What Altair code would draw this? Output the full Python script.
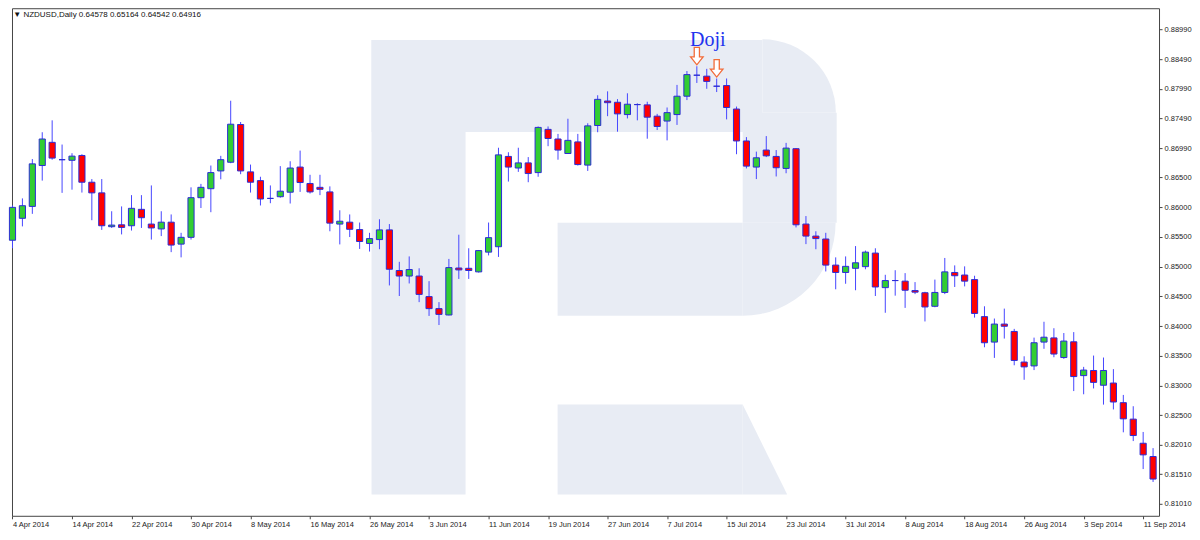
import math
import altair as alt
import pandas as pd

# ---------------- data ----------------
date_labels = ["4 Apr 2014", "14 Apr 2014", "22 Apr 2014", "30 Apr 2014", "8 May 2014",
               "16 May 2014", "26 May 2014", "3 Jun 2014", "11 Jun 2014", "19 Jun 2014",
               "27 Jun 2014", "7 Jul 2014", "15 Jul 2014", "23 Jul 2014", "31 Jul 2014",
               "8 Aug 2014", "18 Aug 2014", "26 Aug 2014", "3 Sep 2014", "11 Sep 2014"]
label_step = 6  # bars between date labels

opens = [
    0.85444, 0.85813, 0.86013, 0.86701, 0.87091, 0.86799, 0.86789, 0.86870, 0.86420, 0.86241,
    0.85672, 0.85704, 0.85688, 0.85964, 0.85716, 0.85634, 0.85748, 0.85379, 0.85493, 0.86160,
    0.86311, 0.86610, 0.86756, 0.87391, 0.86594, 0.86447, 0.86148, 0.86176, 0.86252, 0.86675,
    0.86399, 0.86334, 0.86257, 0.85716, 0.85748, 0.85623, 0.85390, 0.85455, 0.85618, 0.84935,
    0.84842, 0.84842, 0.84496, 0.84294, 0.84187, 0.84977, 0.84972, 0.84912, 0.85244, 0.85335,
    0.86854, 0.86659, 0.86745, 0.86582, 0.87309, 0.87147, 0.86903, 0.87098, 0.86708, 0.87374,
    0.87786, 0.87765, 0.87558, 0.87726, 0.87721, 0.87531, 0.87449, 0.87558, 0.87867, 0.88220,
    0.88204, 0.88035, 0.88046, 0.87651, 0.87114, 0.86675, 0.86961, 0.86854, 0.86652, 0.86984,
    0.85716, 0.85514, 0.85465, 0.85026, 0.84902, 0.84972, 0.85000, 0.85228, 0.84647, 0.84766,
    0.84756, 0.84598, 0.84561, 0.84333, 0.84566, 0.84902, 0.84859, 0.84782, 0.84159, 0.83731,
    0.84034, 0.83910, 0.83395, 0.83330, 0.83731, 0.83801, 0.83471, 0.83736, 0.83167, 0.83253,
    0.83005, 0.83042, 0.82712, 0.82435, 0.82029, 0.81806]
highs = [
    0.86029, 0.86148, 0.86810, 0.87261, 0.87461, 0.87054, 0.86908, 0.86891, 0.86473, 0.86473,
    0.85932, 0.86013, 0.86203, 0.86203, 0.86366, 0.85932, 0.85878, 0.85569, 0.86334, 0.86392,
    0.86701, 0.86864, 0.87791, 0.87433, 0.86717, 0.86512, 0.86366, 0.86691, 0.86773, 0.86952,
    0.86545, 0.86545, 0.86350, 0.85948, 0.85878, 0.85742, 0.85569, 0.85797, 0.85716, 0.85081,
    0.85172, 0.84972, 0.84756, 0.84403, 0.85130, 0.85537, 0.85309, 0.85280, 0.85742, 0.87000,
    0.86924, 0.87000, 0.86843, 0.87358, 0.87358, 0.87233, 0.87488, 0.87233, 0.87412, 0.87883,
    0.87949, 0.87818, 0.87916, 0.87748, 0.87774, 0.87570, 0.87677, 0.88057, 0.88290, 0.88371,
    0.88327, 0.88165, 0.88165, 0.87693, 0.87179, 0.86935, 0.87196, 0.86961, 0.87082, 0.86995,
    0.85851, 0.85595, 0.85569, 0.85156, 0.85172, 0.85346, 0.85270, 0.85309, 0.84863, 0.84940,
    0.84891, 0.84740, 0.84577, 0.84782, 0.85146, 0.85021, 0.85005, 0.84847, 0.84333, 0.84127,
    0.84294, 0.83953, 0.83492, 0.83806, 0.84073, 0.83964, 0.83883, 0.83899, 0.83314, 0.83504,
    0.83471, 0.83276, 0.82842, 0.82652, 0.82219, 0.81947]
lows = [
    0.85309, 0.85677, 0.85888, 0.86447, 0.86799, 0.86241, 0.86295, 0.86246, 0.85781, 0.85618,
    0.85651, 0.85542, 0.85607, 0.85651, 0.85455, 0.85514, 0.85244, 0.85156, 0.85455, 0.85986,
    0.85916, 0.86469, 0.86740, 0.86555, 0.86246, 0.86029, 0.86067, 0.86160, 0.86062, 0.86257,
    0.86230, 0.86203, 0.85595, 0.85374, 0.85498, 0.85298, 0.85254, 0.85293, 0.84684, 0.84506,
    0.84717, 0.84403, 0.84171, 0.84018, 0.84180, 0.84793, 0.84793, 0.84900, 0.85189, 0.85163,
    0.86431, 0.86594, 0.86420, 0.86512, 0.87026, 0.86799, 0.86895, 0.86701, 0.86610, 0.87261,
    0.87531, 0.87270, 0.87493, 0.87461, 0.87152, 0.87298, 0.87124, 0.87384, 0.87802, 0.88090,
    0.87992, 0.87937, 0.87477, 0.86891, 0.86652, 0.86473, 0.86843, 0.86517, 0.86571, 0.85660,
    0.85379, 0.85293, 0.84919, 0.84619, 0.84712, 0.84603, 0.84956, 0.84506, 0.84224, 0.84512,
    0.84306, 0.84538, 0.84078, 0.84317, 0.84538, 0.84658, 0.84668, 0.84143, 0.83644, 0.83465,
    0.83790, 0.83341, 0.83097, 0.83260, 0.83618, 0.83476, 0.83449, 0.82907, 0.82853, 0.82951,
    0.82679, 0.82598, 0.82213, 0.82066, 0.81595, 0.81378]
closes = [
    0.85997, 0.86025, 0.86729, 0.87147, 0.86826, 0.86799, 0.86859, 0.86420, 0.86241, 0.85688,
    0.85699, 0.85660, 0.85981, 0.85823, 0.85651, 0.85748, 0.85363, 0.85493, 0.86160, 0.86334,
    0.86582, 0.86799, 0.87396, 0.86610, 0.86420, 0.86138, 0.86148, 0.86269, 0.86659, 0.86415,
    0.86257, 0.86301, 0.85732, 0.85764, 0.85628, 0.85423, 0.85472, 0.85618, 0.84956, 0.84842,
    0.84951, 0.84533, 0.84294, 0.84197, 0.84984, 0.84945, 0.84935, 0.85270, 0.85488, 0.86880,
    0.86675, 0.86745, 0.86566, 0.87342, 0.87156, 0.86961, 0.87124, 0.86717, 0.87368, 0.87814,
    0.87758, 0.87570, 0.87732, 0.87726, 0.87514, 0.87358, 0.87591, 0.87867, 0.88230, 0.88220,
    0.88116, 0.88035, 0.87677, 0.87114, 0.86691, 0.86831, 0.86864, 0.86664, 0.86994, 0.85704,
    0.85514, 0.85472, 0.85026, 0.84902, 0.85005, 0.85065, 0.85244, 0.84658, 0.84766, 0.84766,
    0.84603, 0.84571, 0.84322, 0.84566, 0.84912, 0.84847, 0.84756, 0.84213, 0.83720, 0.84034,
    0.83997, 0.83422, 0.83314, 0.83720, 0.83813, 0.83530, 0.83748, 0.83151, 0.83260, 0.83053,
    0.83253, 0.82723, 0.82440, 0.82159, 0.81834, 0.81427]

price_ticks = [0.88990, 0.88490, 0.87990, 0.87490, 0.86990, 0.86500, 0.86000, 0.85500,
               0.85000, 0.84500, 0.84000, 0.83500, 0.83000, 0.82500, 0.82010, 0.81510, 0.81010]

header_text = "\u25bc NZDUSD,Daily  0.64578 0.65164 0.64542 0.64916"
doji_bars = [69, 71]
doji_label = "Doji"

# ---------------- layout ----------------
W, H = 1148, 508
REF_W, REF_H = 1159.0, 525.0
sx, sy = W / REF_W, H / REF_H
X_DOMAIN = [-0.05, 115.6]
Y_DOMAIN = [0.80809, 0.89347]


def px(v):
    return (v - 1.7) * sx


def py(v):
    return v * sy


n = len(opens)
df = pd.DataFrame({"i": list(range(n)), "o": opens, "h": highs, "l": lows, "c": closes})
df["x1"] = df["i"] - 0.31
df["x2"] = df["i"] + 0.31
df["dir"] = ["up" if c > o else ("down" if c < o else "flat") for o, c in zip(opens, closes)]

tick_idx = [k * label_step for k in range(len(date_labels))]
label_js = "[" + ",".join("'" + s + "'" for s in date_labels) + "]"
x_expr = label_js + "[round(datum.value / " + str(label_step) + ")]"

FONT = "Liberation Sans"
xaxis = alt.Axis(values=tick_idx, labelExpr=x_expr, labelAlign="left", labelBaseline="top",
                 labelPadding=2, tickSize=3, tickColor="#444", domain=False, grid=False,
                 labelFont=FONT, labelFontSize=7.5, labelColor="#222", labelFlush=False,
                 labelOverlap=False, labelBound=False, title=None)
yaxis = alt.Axis(orient="right", values=price_ticks, format=".5f", labelAlign="left",
                 labelBaseline="middle", labelPadding=2, tickSize=3, tickColor="#444",
                 domain=False, grid=False, labelFont=FONT, labelFontSize=7.5,
                 labelColor="#222", labelOverlap=False, labelFlush=False, title=None)
xscale = alt.Scale(domain=X_DOMAIN, nice=False, zero=False)
yscale = alt.Scale(domain=Y_DOMAIN, nice=False, zero=False)

one = pd.DataFrame({"a": [1]})
WM = "#e8ecf4"

# ---------------- watermark "R" (decoration) ----------------
wm_layers = []
for (x0, y0, x1, y1) in [(365, 33, 460, 503), (365, 33, 760, 128), (740, 108, 835, 222),
                         (553, 222, 740, 318), (553, 410, 740, 503)]:
    wm_layers.append(
        alt.Chart(one).mark_rect(color=WM).encode(
            x=alt.value(px(x0)), x2=alt.value(px(x1)), y=alt.value(py(y0)), y2=alt.value(py(y1)))
    )
r_avg = (sx + sy) / 2
wm_layers.append(
    alt.Chart(one).mark_arc(radius=75 * r_avg, theta=0, theta2=math.pi / 2, color=WM).encode(
        x=alt.value(px(760)), y=alt.value(py(108)))
)
wm_layers.append(
    alt.Chart(one).mark_arc(radius=95 * r_avg, theta=math.pi / 2, theta2=math.pi, color=WM).encode(
        x=alt.value(px(740)), y=alt.value(py(222)))
)
tri_h = 93 * sy
tri_a = (45 * sx) / tri_h
tri_shape = f"M {-tri_a:.4f} -1 L {-tri_a:.4f} 1 L {tri_a:.4f} 1 Z"
wm_layers.append(
    alt.Chart(one).mark_point(shape=tri_shape, filled=True, color=WM, opacity=1,
                              strokeWidth=0, size=tri_h * tri_h).encode(
        x=alt.value(px(762.5)), y=alt.value(py(456.5)))
)

# ---------------- candles ----------------
wicks = alt.Chart(df).mark_rule(color="#4646ff", strokeWidth=1).encode(
    x=alt.X("i:Q", scale=xscale, axis=xaxis),
    y=alt.Y("l:Q", scale=yscale, axis=yaxis),
    y2="h:Q",
)
bodies = alt.Chart(df).mark_rect(stroke="#2b2bd6", strokeWidth=1).encode(
    x=alt.X("x1:Q", scale=xscale, axis=xaxis),
    x2="x2:Q",
    y=alt.Y("o:Q", scale=yscale, axis=yaxis),
    y2="c:Q",
    fill=alt.Fill("dir:N", scale=alt.Scale(domain=["up", "down", "flat"],
                                           range=["#32cd32", "#ff0000", "#2b2bd6"]), legend=None),
)

# ---------------- annotations ----------------
arrow_df = pd.DataFrame({"i": doji_bars,
                         "p": [highs[k] for k in doji_bars]})
arrow_shape = "M -0.3 -1 L 0.3 -1 L 0.3 0.1 L 0.72 0.1 L 0 1 L -0.72 0.1 L -0.3 0.1 Z"
arrows = alt.Chart(arrow_df).mark_point(
    shape=arrow_shape, filled=True, fill="white", stroke="#f26b38", strokeWidth=1.3,
    opacity=1, size=(18 * sy) ** 2, yOffset=-10.5 * sy).encode(
    x=alt.X("i:Q", scale=xscale, axis=xaxis),
    y=alt.Y("p:Q", scale=yscale, axis=yaxis),
)
doji_df = pd.DataFrame({"i": [sum(doji_bars) / len(doji_bars)], "p": [max(highs[k] for k in doji_bars)],
                        "t": [doji_label]})
doji_text = alt.Chart(doji_df).mark_text(
    font="Liberation Serif", fontSize=20, color="#2233ee", baseline="alphabetic",
    align="center", yOffset=-21 * sy, dx=1).encode(
    x=alt.X("i:Q", scale=xscale, axis=xaxis),
    y=alt.Y("p:Q", scale=yscale, axis=yaxis),
    text="t:N",
)
header = alt.Chart(one).mark_text(
    text=header_text, font=FONT, fontSize=8, color="#111", align="left", baseline="middle").encode(
    x=alt.value(px(3)), y=alt.value(py(7.3)))

chart = alt.layer(*wm_layers, wicks, bodies, arrows, doji_text, header).properties(
    width=W, height=H, padding={"left": 0, "top": 0, "right": 0, "bottom": 0},
    background="white",
).configure_view(stroke="#444", strokeWidth=1)

chart.save("out.html", embed_options={"renderer": "svg", "actions": False})
